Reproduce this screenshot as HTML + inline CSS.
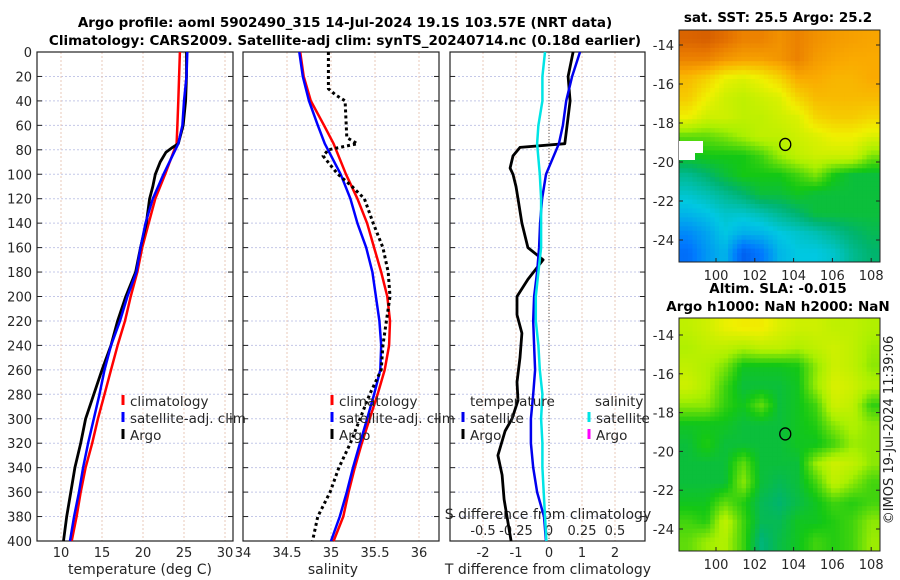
<!DOCTYPE html>
<html><head><meta charset="utf-8"><style>
html,body{margin:0;padding:0;background:#fff;}
svg{display:block;font-family:"DejaVu Sans","Liberation Sans",sans-serif;}
</style></head><body>
<svg id="fig" width="900" height="580" viewBox="0 0 900 580">
<text x="345" y="27" font-size="13.5" font-weight="bold" text-anchor="middle">Argo profile: aoml 5902490_315 14-Jul-2024 19.1S 103.57E (NRT data)</text>
<text x="345" y="45" font-size="13.5" font-weight="bold" text-anchor="middle">Climatology: CARS2009. Satellite-adj clim: synTS_20240714.nc (0.18d earlier)</text>
<text x="778" y="22" font-size="13.5" font-weight="bold" text-anchor="middle">sat. SST: 25.5 Argo: 25.2</text>
<text x="778" y="293" font-size="13.5" font-weight="bold" text-anchor="middle">Altim. SLA: -0.015</text>
<text x="778" y="311" font-size="13.5" font-weight="bold" text-anchor="middle">Argo h1000: NaN h2000: NaN</text>
<text transform="translate(893,430) rotate(-90)" font-size="13" fill="#222" text-anchor="middle">©IMOS 19-Jul-2024 11:39:06</text>
</svg>
<script>
// ---------- data ----------
const depths = [0,20,40,60,75,100,120,140,160,180,200,220,240,260,280,300,320,340,360,380,400];
const tempClim = [24.5,24.4,24.3,24.2,24.1,22.7,21.5,20.7,19.9,19.3,18.5,17.8,16.9,16.1,15.3,14.5,13.8,13.0,12.4,11.9,11.3];
const tempSat  = [25.4,25.3,25.0,24.8,24.3,22.5,21.2,20.3,19.7,19.2,18.1,17.2,16.1,15.3,14.7,14.0,13.3,12.7,12.2,11.6,11.1];
const argoDepths = [0,20,40,60,75,78,82,90,100,110,120,140,160,180,200,220,240,260,280,300,320,340,360,380,400];
const tempArgo = [25.3,25.3,25.2,24.9,24.3,23.6,22.8,22.1,21.5,21.2,20.8,20.4,19.7,19.1,17.9,16.9,16.1,15.0,14.0,13.0,12.4,11.7,11.2,10.7,10.3];
const salClim = [34.65,34.69,34.77,34.92,35.03,35.17,35.30,35.41,35.49,35.57,35.64,35.67,35.66,35.61,35.53,35.44,35.35,35.27,35.20,35.14,35.03];
const salSat  = [34.64,34.68,34.75,34.85,34.93,35.11,35.22,35.30,35.40,35.47,35.51,35.55,35.57,35.56,35.49,35.41,35.33,35.25,35.18,35.10,35.00];
const salArgoDepths = [0,30,35,40,70,75,80,85,95,100,110,120,140,160,180,200,220,240,260,280,300,320,340,360,380,400];
const salArgo = [34.97,34.97,35.05,35.16,35.18,35.30,34.97,34.91,35.02,35.08,35.24,35.38,35.48,35.59,35.65,35.67,35.63,35.59,35.57,35.44,35.33,35.22,35.09,34.99,34.85,34.79];
const tdiffSat = [0.94,0.70,0.52,0.42,0.30,-0.09,-0.21,-0.27,-0.30,-0.36,-0.45,-0.48,-0.45,-0.42,-0.48,-0.55,-0.55,-0.48,-0.36,-0.15,-0.09];
const sdiffSat = [-0.03,-0.05,-0.05,-0.08,-0.09,-0.07,-0.06,-0.06,-0.06,-0.08,-0.10,-0.10,-0.08,-0.07,-0.05,-0.06,-0.05,-0.05,-0.04,-0.03,-0.02];
const tdiffArgoDepths = [0,20,40,60,75,78,85,95,100,110,120,140,160,170,186,200,215,230,250,270,285,300,310,330,346,366,400];
const tdiffArgo = [0.73,0.58,0.64,0.55,0.48,-0.88,-1.09,-1.18,-1.09,-1.0,-0.94,-0.82,-0.64,-0.18,-0.64,-0.97,-0.97,-0.82,-0.88,-0.97,-0.94,-1.12,-1.33,-1.55,-1.42,-1.36,-1.15];
const depthTicks = [0,20,40,60,80,100,120,140,160,180,200,220,240,260,280,300,320,340,360,380,400];
const tempTicks = [10,15,20,25,30];
const salTicks = [34,34.5,35,35.5,36];
const tdTicks = [-2,-1,0,1,2];
const sdTicks = [-0.5,-0.25,0,0.25,0.5];
const sdTickLabels = ["-0.5","-0.25","0","0.25","0.5"];
const latTicks = [-14,-16,-18,-20,-22,-24];
const lonTicks = [100,102,104,106,108];
const sstGrid = [
[0.92,0.93,0.90,0.86,0.86,0.83,0.86,0.83,0.81,0.80,0.79],
[0.86,0.86,0.82,0.80,0.80,0.82,0.86,0.81,0.79,0.78,0.78],
[0.75,0.71,0.64,0.62,0.65,0.70,0.78,0.78,0.76,0.76,0.78],
[0.72,0.65,0.60,0.58,0.60,0.62,0.70,0.75,0.75,0.75,0.75],
[0.65,0.60,0.60,0.58,0.58,0.60,0.62,0.70,0.72,0.72,0.70],
[0.50,0.50,0.52,0.55,0.58,0.58,0.60,0.62,0.65,0.65,0.62],
[0.44,0.45,0.45,0.45,0.48,0.54,0.58,0.60,0.60,0.60,0.52],
[0.35,0.38,0.42,0.45,0.45,0.45,0.48,0.52,0.45,0.42,0.42],
[0.30,0.32,0.35,0.38,0.42,0.42,0.44,0.42,0.42,0.42,0.42],
[0.25,0.27,0.30,0.30,0.32,0.35,0.38,0.42,0.42,0.42,0.42],
[0.18,0.22,0.28,0.24,0.25,0.28,0.30,0.32,0.35,0.38,0.40],
[0.13,0.20,0.25,0.10,0.15,0.25,0.28,0.28,0.30,0.35,0.38]];
const slaGrid = [
[0.58,0.60,0.64,0.66,0.66,0.62,0.60,0.60,0.58,0.58,0.56],
[0.56,0.58,0.58,0.56,0.58,0.58,0.56,0.58,0.60,0.58,0.54],
[0.58,0.56,0.52,0.44,0.44,0.44,0.45,0.53,0.60,0.58,0.53],
[0.60,0.56,0.48,0.42,0.42,0.42,0.44,0.54,0.62,0.60,0.56],
[0.53,0.53,0.47,0.44,0.50,0.42,0.44,0.48,0.60,0.58,0.47],
[0.44,0.44,0.44,0.42,0.42,0.42,0.44,0.46,0.53,0.56,0.53],
[0.42,0.46,0.42,0.42,0.42,0.42,0.44,0.44,0.48,0.54,0.53],
[0.42,0.42,0.42,0.50,0.42,0.42,0.42,0.54,0.60,0.58,0.53],
[0.42,0.42,0.42,0.53,0.42,0.40,0.42,0.48,0.58,0.53,0.48],
[0.44,0.44,0.50,0.46,0.40,0.38,0.41,0.44,0.48,0.46,0.48],
[0.48,0.46,0.58,0.48,0.40,0.40,0.44,0.44,0.46,0.48,0.53],
[0.50,0.54,0.56,0.48,0.37,0.41,0.44,0.48,0.46,0.48,0.54]];
const argoLon = 103.57, argoLat = -19.1;

// ---------- axes ----------
const NS = 'http://www.w3.org/2000/svg';
const svg = document.getElementById('fig');
const PT = 52, PB = 541;
const yD = d => PT + d * (PB - PT) / 400;
const xT = t => 61 + (t - 10) * 8.2;
const xS = s => 243 + (s - 34) * 88;
const xTd = v => 549 + v * 33;
const xSd = v => 549 + v * 132;
const lonX = lon => 716 + (lon - 100) * 19.4;
const latY1 = lat => 45 + (-14 - lat) * 19.5;
const latY2 = lat => 335 + (-14 - lat) * 19.4;
const panels = [[37,233],[243,439],[450,645]];

function mk(tag, attrs, parent) {
  const e = document.createElementNS(NS, tag);
  for (const k in attrs) e.setAttribute(k, attrs[k]);
  (parent || svg).appendChild(e);
  return e;
}
function txt(x, y, s, size, anchor, parent) {
  const t = mk('text', {x: x, y: y, 'font-size': size, 'text-anchor': anchor, fill: '#262626'}, parent);
  t.textContent = s;
  return t;
}
function lineSeries(xs, ds, xf, color, w, dash) {
  const pts = xs.map((v, i) => xf(v).toFixed(1) + ',' + yD(ds[i]).toFixed(1)).join(' ');
  const p = mk('polyline', {points: pts, fill: 'none', stroke: color, 'stroke-width': w, 'stroke-linejoin': 'round'});
  if (dash) p.setAttribute('stroke-dasharray', dash);
  return p;
}

panels.forEach((p, pi) => {
  const g = mk('g', {});
  
  
  depthTicks.forEach(d => {
    const gl = mk('line', {x1: p[0], x2: p[1], y1: yD(d), y2: yD(d), stroke: '#c4c8e8', 'stroke-width': 1, 'stroke-dasharray': '2,2'}, g);
    
    
    mk('line', {x1: p[0], x2: p[0] + 5, y1: yD(d), y2: yD(d), stroke: '#222'}, g);
    mk('line', {x1: p[1] - 5, x2: p[1], y1: yD(d), y2: yD(d), stroke: '#222'}, g);
  });
  const vt = pi === 0 ? tempTicks.map(xT) : pi === 1 ? salTicks.map(xS) : tdTicks.map(xTd);
  vt.forEach(x => {
    const gl = mk('line', {x1: x, x2: x, y1: PT, y2: PB, stroke: '#e8c8b8', 'stroke-width': 1, 'stroke-dasharray': '2,2'}, g);
    
    
  });
  const fr = mk('rect', {x: p[0], y: PT, width: p[1] - p[0], height: PB - PT, fill: 'none', stroke: '#222', 'stroke-width': 1.2}, g);
  
  
});

depthTicks.forEach(d => {
  const t = txt(32, yD(d) + 5, String(d), 13, 'end');
  
  
});
tempTicks.forEach(v => {
  const t = txt(xT(v), 557, String(v), 13, 'middle');
  
  
});
salTicks.forEach(v => {
  const t = txt(xS(v), 557, String(v), 13, 'middle');
  
  
});
tdTicks.forEach(v => {
  const t = txt(xTd(v), 557, String(v), 13, 'middle');
  
  
});
sdTicks.forEach((v, i) => {
  const t = txt(xSd(v), 535, sdTickLabels[i], 13, 'middle');
  
  
});
let t;
t = txt(140, 574, 'temperature (deg C)', 14, 'middle');


t = txt(333, 574, 'salinity', 14, 'middle');


t = txt(548, 574, 'T difference from climatology', 14, 'middle');


t = txt(548, 519, 'S difference from climatology', 14, 'middle');



const zl = mk('line', {x1: xTd(0), x2: xTd(0), y1: PT, y2: PB, stroke: '#555', 'stroke-width': 1, 'stroke-dasharray': '1,2'});



let s;
s = lineSeries(tempClim, depths, xT, '#ff0000', 2.5);


s = lineSeries(tempArgo, argoDepths, xT, '#000', 2.8);


s = lineSeries(tempSat, depths, xT, '#0000ff', 2.5);


s = lineSeries(salClim, depths, xS, '#ff0000', 2.5);


s = lineSeries(salSat, depths, xS, '#0000ff', 2.5);


s = lineSeries(salArgo, salArgoDepths, xS, '#000', 3, '3,3');


s = lineSeries(tdiffArgo, tdiffArgoDepths, xTd, '#000', 2.8);


s = lineSeries(tdiffSat, depths, xTd, '#0000ee', 2.5);


s = lineSeries(sdiffSat, depths, xSd, '#00e5e5', 2.5);



function legend(x, y, color, label, name) {
  const g = mk('g', {});
  
  
  mk('line', {x1: x, x2: x, y1: y - 11, y2: y - 1, stroke: color, 'stroke-width': 3}, g);
  txt(x + 7, y, label, 13.5, 'start', g);
}
legend(123, 406, '#ff0000', 'climatology', 'legend-entry-climatology');
legend(123, 423, '#0000ff', 'satellite-adj. clim', 'legend-entry-satellite');
legend(123, 440, '#000', 'Argo', 'legend-entry-argo');
legend(332, 406, '#ff0000', 'climatology', 'legend-entry-sal-climatology');
legend(332, 423, '#0000ff', 'satellite-adj. clim', 'legend-entry-sal-satellite');
legend(332, 440, '#000', 'Argo', 'legend-entry-sal-argo');
t = txt(470, 406, 'temperature', 13.5, 'start');


t = txt(595, 406, 'salinity', 13.5, 'start');


legend(463, 423, '#0000ee', 'satellite', 'legend-entry-tdiff-satellite');
legend(463, 440, '#000', 'Argo', 'legend-entry-tdiff-argo');
legend(589, 423, '#00e5e5', 'satellite', 'legend-entry-sdiff-satellite');
legend(589, 440, '#ff00ff', 'Argo', 'legend-entry-sdiff-argo');

// ---------- maps ----------
const cmapStops = [[0,[0,50,210]],[0.15,[0,120,255]],[0.28,[0,200,225]],[0.38,[0,180,110]],[0.45,[20,200,20]],[0.55,[170,240,0]],[0.65,[240,240,0]],[0.78,[250,170,0]],[0.88,[232,120,0]],[1,[190,60,0]]];
function cmap(v) {
  for (let i = 1; i < cmapStops.length; i++) {
    if (v <= cmapStops[i][0]) {
      const a = cmapStops[i-1], b = cmapStops[i], f = (v - a[0]) / (b[0] - a[0]);
      return 'rgb(' + a[1].map((c, k) => Math.round(c + (b[1][k] - c) * f)).join(',') + ')';
    }
  }
  return 'rgb(190,60,0)';
}
function sample(grid, r, c) {
  const R = grid.length, C = grid[0].length;
  r = Math.max(0, Math.min(R - 1, r)); c = Math.max(0, Math.min(C - 1, c));
  const r0 = Math.floor(r), c0 = Math.floor(c), r1 = Math.min(R - 1, r0 + 1), c1 = Math.min(C - 1, c0 + 1);
  const fr = r - r0, fc = c - c0;
  return grid[r0][c0] * (1 - fr) * (1 - fc) + grid[r0][c1] * (1 - fr) * fc + grid[r1][c0] * fr * (1 - fc) + grid[r1][c1] * fr * fc;
}
function drawMap(grid, top, bottom, latY, name) {
  const L = 679, Rr = 880;
  const g = mk('g', {});
  
  
  const nc = 45, nr = 52, cw = (Rr - L) / nc, ch = (bottom - top) / nr;
  const R = grid.length, C = grid[0].length;
  for (let i = 0; i < nr; i++) for (let j = 0; j < nc; j++) {
    const v = sample(grid, (i + 0.5) / nr * R - 0.5, (j + 0.5) / nc * C - 0.5);
    const cell = mk('rect', {x: (L + j * cw).toFixed(2), y: (top + i * ch).toFixed(2), width: (cw + 0.4).toFixed(2), height: (ch + 0.4).toFixed(2), fill: cmap(v)}, g);
    
    
  }
  mk('rect', {x: L, y: top, width: Rr - L, height: bottom - top, fill: 'none', stroke: '#222'}, g);
  latTicks.forEach(lat => {
    const y = latY(lat);
    mk('line', {x1: L, x2: L + 4, y1: y, y2: y, stroke: '#222'}, g);
    mk('line', {x1: Rr - 4, x2: Rr, y1: y, y2: y, stroke: '#222'}, g);
    const tl = txt(674, y + 5, String(lat), 13, 'end', g);
    
    
  });
  lonTicks.forEach(lon => {
    const x = lonX(lon);
    mk('line', {x1: x, x2: x, y1: bottom - 4, y2: bottom, stroke: '#222'}, g);
    const tl = txt(x, bottom + 18, String(lon), 13, 'middle', g);
    
    
  });
  return g;
}
const m1 = drawMap(sstGrid, 30, 262, latY1, 'sst-map');
const nan = mk('rect', {x: 679, y: 141, width: 24, height: 12, fill: '#fff'}, m1);


mk('rect', {x: 679, y: 141, width: 16, height: 19, fill: '#fff'}, m1);
const c1 = mk('ellipse', {cx: lonX(argoLon), cy: latY1(argoLat), rx: 5.5, ry: 6, fill: 'none', stroke: '#000', 'stroke-width': 1.3});


drawMap(slaGrid, 318, 551, latY2, 'sla-map');
const c2 = mk('ellipse', {cx: lonX(argoLon), cy: latY2(argoLat), rx: 5.5, ry: 6, fill: 'none', stroke: '#000', 'stroke-width': 1.3});


</script>
</body></html>
